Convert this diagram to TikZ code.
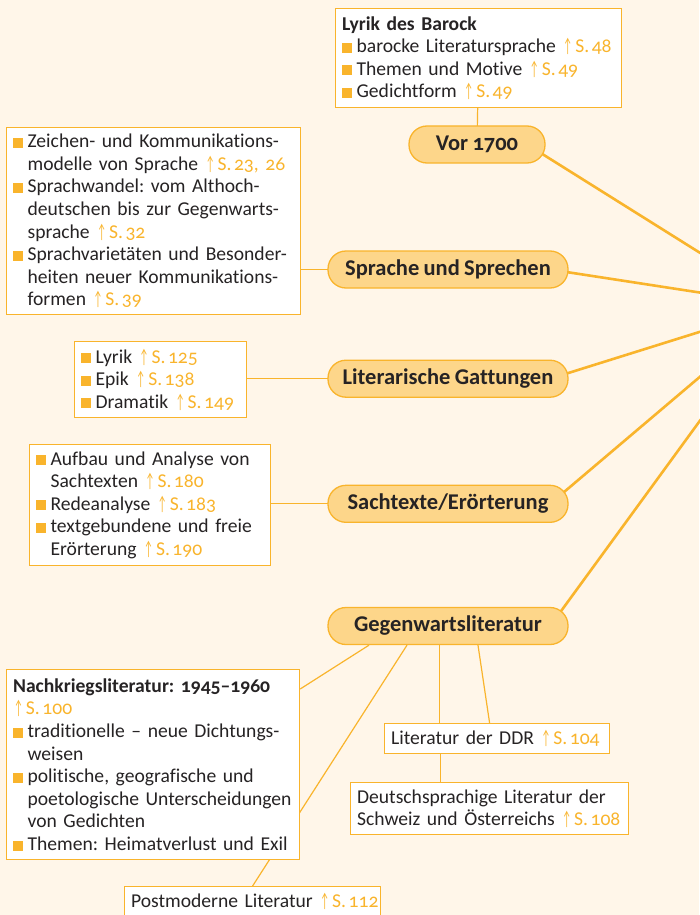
\documentclass[tikz,border=0pt]{standalone}
\usepackage{fontspec}
\usepackage{graphicx}
\setmainfont{Carlito}[Numbers=OldStyle, Ligatures=NoCommon, WordSpace=0.85]
\usetikzlibrary{backgrounds}
\frenchspacing
\definecolor{cream}{HTML}{FFF6E9}
\definecolor{gold}{HTML}{F9B42C}
\definecolor{goldfill}{HTML}{FDD68A}
\definecolor{ink}{HTML}{262324}
\newcommand{\bul}{{\color{gold}\rule{10pt}{10pt}}\hspace{4.5pt}}
\newcommand{\ind}{\hspace{14.5pt}}
\newcommand{\seite}[1]{\mbox{\color{gold}\hspace{1pt}\scalebox{0.5}[1]{↑}\hspace{3pt}S.\hspace{2.5pt}#1}}
\tikzset{
  topic/.style={draw=gold, fill=goldfill, line width=1.3pt, rounded corners=18pt,
                minimum width=240pt, minimum height=37pt, inner sep=0pt, text=ink,
                font=\bfseries\fontsize{22.5}{24}\selectfont},
  infobox/.style={draw=gold, fill=white, line width=1.2pt, anchor=north west,
                  align=left, inner xsep=6.5pt, inner ysep=0pt, text=ink,
                  font=\fontsize{19.6}{22.6}\selectfont},
  hubline/.style={draw=gold, line width=2.6pt},
  leafline/.style={draw=gold, line width=1.2pt}
}

\begin{document}
\begin{tikzpicture}[x=1pt,y=-1pt]
    \useasboundingbox (0,0) rectangle (699,915);
    \begin{pgfonlayer}{background}
        \fill[cream] (0,0) rectangle (699,915);
    \end{pgfonlayer}

    % Themen
    \node[topic, minimum width=136pt] (vor) at (477,144.5) {Vor 1700};
    \node[topic] (sprache) at (448,269.5) {Sprache und Sprechen};
    \node[topic] (gattung) at (448,378.7) {Literarische Gattungen};
    \node[topic] (sachtext) at (448,503.8) {Sachtexte/Erörterung};
    \node[topic] (gegen) at (448,626) {Gegenwartsliteratur};
    \coordinate (hub) at (784,305.5);

    % Kästen
    \node[infobox, text width=273pt, minimum height=99pt] (barock) at (335,8)
        {\textbf{Lyrik des Barock}\\
         \bul barocke Literatursprache \seite{48}\\
         \bul Themen und Motive \seite{49}\\
         \bul Gedichtform \seite{49}};
    \node[infobox, text width=281pt, minimum height=187pt] (zeichen) at (6,127)
        {\bul Zeichen- und Kommunikations-\\
         \ind modelle von Sprache \seite{23, 26}\\
         \bul Sprachwandel: vom Althoch-\\
         \ind deutschen bis zur Gegenwarts-\\
         \ind sprache \seite{32}\\
         \bul Sprachvarietäten und Besonder-\\
         \ind heiten neuer Kommunikations-\\
         \ind formen \seite{39}};
    \node[infobox, text width=159pt, minimum height=76pt] (lyrik) at (74,341)
        {\bul Lyrik \seite{125}\\
         \bul Epik \seite{138}\\
         \bul Dramatik \seite{149}};
    \node[infobox, text width=228pt, minimum height=121pt] (aufbau) at (29,444)
        {\bul Aufbau und Analyse von\\
         \ind Sachtexten \seite{180}\\
         \bul Redeanalyse \seite{183}\\
         \bul textgebundene und freie\\
         \ind Erörterung \seite{190}};
    \node[infobox, text width=280pt, minimum height=190pt] (nach) at (6,669)
        {\textbf{Nachkriegsliteratur: 1945–1960}\\
         \seite{100}\\
         \bul traditionelle – neue Dichtungs-\\
         \ind weisen\\
         \bul politische, geografische und\\
         \ind poetologische Unterscheidungen\\
         \ind von Gedichten\\
         \bul Themen: Heimatverlust und Exil};
    \node[infobox, text width=243pt, minimum height=30pt] (post) at (124,886)
        {\mbox{Postmoderne Literatur \seite{112}}};
    \node[infobox, text width=212pt, minimum height=30pt] (ddr) at (384,723)
        {\mbox{Literatur der DDR \seite{104}}};
    \node[infobox, text width=265pt, minimum height=52pt] (deutsch) at (350,782)
        {Deutschsprachige Literatur der\\
         \mbox{Schweiz und Österreichs \seite{108}}};

    % Verbindungen
    \coordinate (gs) at ([xshift=-8.5pt]gegen.south);
    \coordinate (ds) at ([xshift=-57pt]ddr.south);
    \begin{pgfonlayer}{background}
        \foreach \n in {vor,sprache,gattung,sachtext,gegen}
            \draw[hubline] ([xshift=-18.5pt]\n.east) -- (hub);
        \draw[leafline] (barock.center) -- (vor.center);
        \draw[leafline] (sprache.center) -- (sprache.center -| zeichen.east);
        \draw[leafline] (gattung.center) -- (gattung.center -| lyrik.east);
        \draw[leafline] (sachtext.center) -- (sachtext.center -| aufbau.east);
        \draw[leafline] ([xshift=-79pt]gegen.south) -- ([yshift=-20pt]nach.north east);
        \draw[leafline] ([xshift=-41pt]gegen.south) -- (post.north);
        \draw[leafline] (gs) -- (gs |- ddr.north);
        \draw[leafline] ([xshift=30pt]gegen.south) -- ([xshift=-7.5pt]ddr.north);
        \draw[leafline] (ds) -- (ds |- deutsch.north);
    \end{pgfonlayer}
\end{tikzpicture}
\end{document}
